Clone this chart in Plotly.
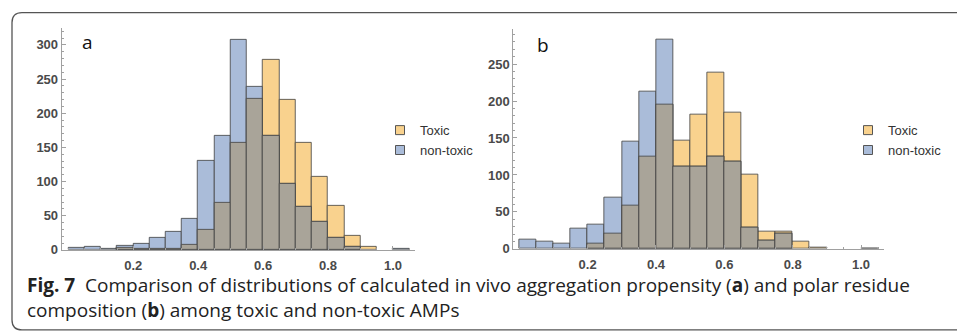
import plotly.graph_objects as go

# ---------------- data ----------------
bin_width = 0.05
bin_left = [round(i * bin_width, 2) for i in range(21)]  # 0.00 ... 1.00

toxic_a    = [0, 0, 0, 3, 1, 1, 1, 7, 30, 69, 157, 221, 278, 219, 156, 107, 65, 20, 5, 0, 0]
nontoxic_a = [3, 5, 1, 6, 9, 17, 26, 46, 130, 167, 307, 239, 167, 96, 63, 41, 18, 4, 0, 0, 1]

toxic_b    = [0, 0, 0, 0, 7, 20, 59, 125, 195, 147, 182, 239, 185, 101, 24, 24, 10, 2, 0, 0, 0]
nontoxic_b = [12, 10, 7, 27, 33, 70, 145, 213, 283, 111, 111, 125, 118, 29, 11, 21, 0, 0, 0, 0, 1]

x_tick_vals = [0.2, 0.4, 0.6, 0.8, 1.0]
x_tick_text = ["0.2", "0.4", "0.6", "0.8", "1.0"]
y_tick_a = [0, 50, 100, 150, 200, 250, 300]
y_tick_b = [0, 50, 100, 150, 200, 250]

series_names = ["Toxic", "non-toxic"]
panel_labels = ["a", "b"]
caption_line1 = ("<b>Fig. 7</b>  Comparison of distributions of calculated in vivo aggregation "
                 "propensity (<b>a</b>) and polar residue")
caption_line2 = "composition (<b>b</b>) among toxic and non-toxic AMPs"

# ---------------- style ----------------
W, H = 957, 333
C_TOX = "#F9D28E"
C_NON = "#AABCD9"
C_OVL = "#A9A499"
EDGE = "rgba(65,65,65,0.9)"
AX = "#A0A0A0"
TICKFONT = dict(family="Liberation Sans, Arial", size=13, color="#4a4a4a", weight="bold")


def px_x(p):
    return p / W


def px_y(p):
    return 1 - p / H


def nz(vals):
    return [v if v > 0 else None for v in vals]


fig = go.Figure()

centers = [b + bin_width / 2 for b in bin_left]

panels = [
    (toxic_a, nontoxic_a, "x", "y", "legend"),
    (toxic_b, nontoxic_b, "x2", "y2", "legend2"),
]
for tox, non, xa, ya, lg in panels:
    ovl = [min(t, n) for t, n in zip(tox, non)]
    for vals, col in ((tox, C_TOX), (non, C_NON), (ovl, C_OVL)):
        fig.add_trace(go.Bar(
            x=centers, y=nz(vals), width=bin_width, xaxis=xa, yaxis=ya,
            marker=dict(color=col, line=dict(color=EDGE, width=0.9)),
            showlegend=False, hoverinfo="skip"))
    for name, col in zip(series_names, (C_TOX, C_NON)):
        fig.add_trace(go.Scatter(
            x=[None], y=[None], mode="markers", name=name, xaxis=xa, yaxis=ya,
            legend=lg,
            marker=dict(symbol="square", size=9, color=col,
                        line=dict(color="#555555", width=1))))

axis_common = dict(showline=True, linecolor=AX, linewidth=1, showgrid=False,
                   zeroline=False, ticks="inside", tickcolor=AX, ticklen=4,
                   tickfont=TICKFONT)

# left panel geometry (pixels): x -0.0203 @61.7, 1.0678 @415; y 0 @256, 325 @28.5
fig.update_layout(
    xaxis=dict(domain=[px_x(61.7), px_x(415)], range=[-0.0203, 1.0678],
               tickvals=x_tick_vals, ticktext=x_tick_text, anchor="y",
               ticklabelstandoff=4,
               minor=dict(dtick=0.05, tick0=0, ticklen=2, tickcolor=AX, ticks="inside"),
               **axis_common),
    yaxis=dict(domain=[px_y(256), px_y(28.5)], range=[0, 325], tickvals=y_tick_a,
               anchor="x",
               minor=dict(dtick=10, tick0=0, ticklen=2, tickcolor=AX, ticks="inside"),
               **axis_common),
    xaxis2=dict(domain=[px_x(513.3), px_x(884)], range=[-0.0176, 1.0673],
                tickvals=x_tick_vals, ticktext=x_tick_text, anchor="y2",
                ticklabelstandoff=4,
                minor=dict(dtick=0.05, tick0=0, ticklen=2, tickcolor=AX, ticks="inside"),
                **axis_common),
    yaxis2=dict(domain=[px_y(255), px_y(29.3)], range=[0, 298], tickvals=y_tick_b,
                anchor="x2",
                minor=dict(dtick=10, tick0=0, ticklen=2, tickcolor=AX, ticks="inside"),
                **axis_common),
)

legend_common = dict(font=dict(family="Liberation Sans, Arial", size=13, color="#333333"),
                     bgcolor="rgba(0,0,0,0)", borderwidth=0, traceorder="normal",
                     xanchor="left", yanchor="top", itemwidth=30)
fig.update_layout(
    legend=dict(x=px_x(380), y=px_y(118), **legend_common),
    legend2=dict(x=px_x(848), y=px_y(118), **legend_common),
)

annos = []
annos.append(dict(x=px_x(87), y=px_y(43), xref="paper", yref="paper", text=panel_labels[0],
                  showarrow=False, xanchor="center", yanchor="middle",
                  font=dict(family="Open Sans", size=19, color="#111111")))
annos.append(dict(x=px_x(543), y=px_y(46), xref="paper", yref="paper", text=panel_labels[1],
                  showarrow=False, xanchor="center", yanchor="middle",
                  font=dict(family="Open Sans", size=19, color="#111111")))
annos.append(dict(x=px_x(25), y=px_y(292), xref="paper", yref="paper", text=caption_line1,
                  showarrow=False, xanchor="left", yanchor="middle",
                  font=dict(family="Open Sans", size=19, color="#222222")))
annos.append(dict(x=px_x(25), y=px_y(318), xref="paper", yref="paper", text=caption_line2,
                  showarrow=False, xanchor="left", yanchor="middle",
                  font=dict(family="Open Sans", size=19, color="#222222")))

# rounded border (partially outside the image, like the cropped reference)
L, T, R, B, r = 12, 13, 975, 338, 10
path = (f"M {px_x(L)},{px_y(B - r)} L {px_x(L)},{px_y(T + r)} "
        f"Q {px_x(L)},{px_y(T)} {px_x(L + r)},{px_y(T)} L {px_x(R)},{px_y(T)} "
        f"L {px_x(R)},{px_y(B)} L {px_x(L + r)},{px_y(B)} "
        f"Q {px_x(L)},{px_y(B)} {px_x(L)},{px_y(B - r)} Z")

fig.update_layout(
    width=W, height=H, margin=dict(l=0, r=0, t=0, b=0),
    paper_bgcolor="white", plot_bgcolor="white",
    barmode="overlay", bargap=0,
    annotations=annos,
    shapes=[dict(type="path", path=path, xref="paper", yref="paper",
                 line=dict(color="#555555", width=1.3), layer="below")],
)

fig.write_html("out.html")
